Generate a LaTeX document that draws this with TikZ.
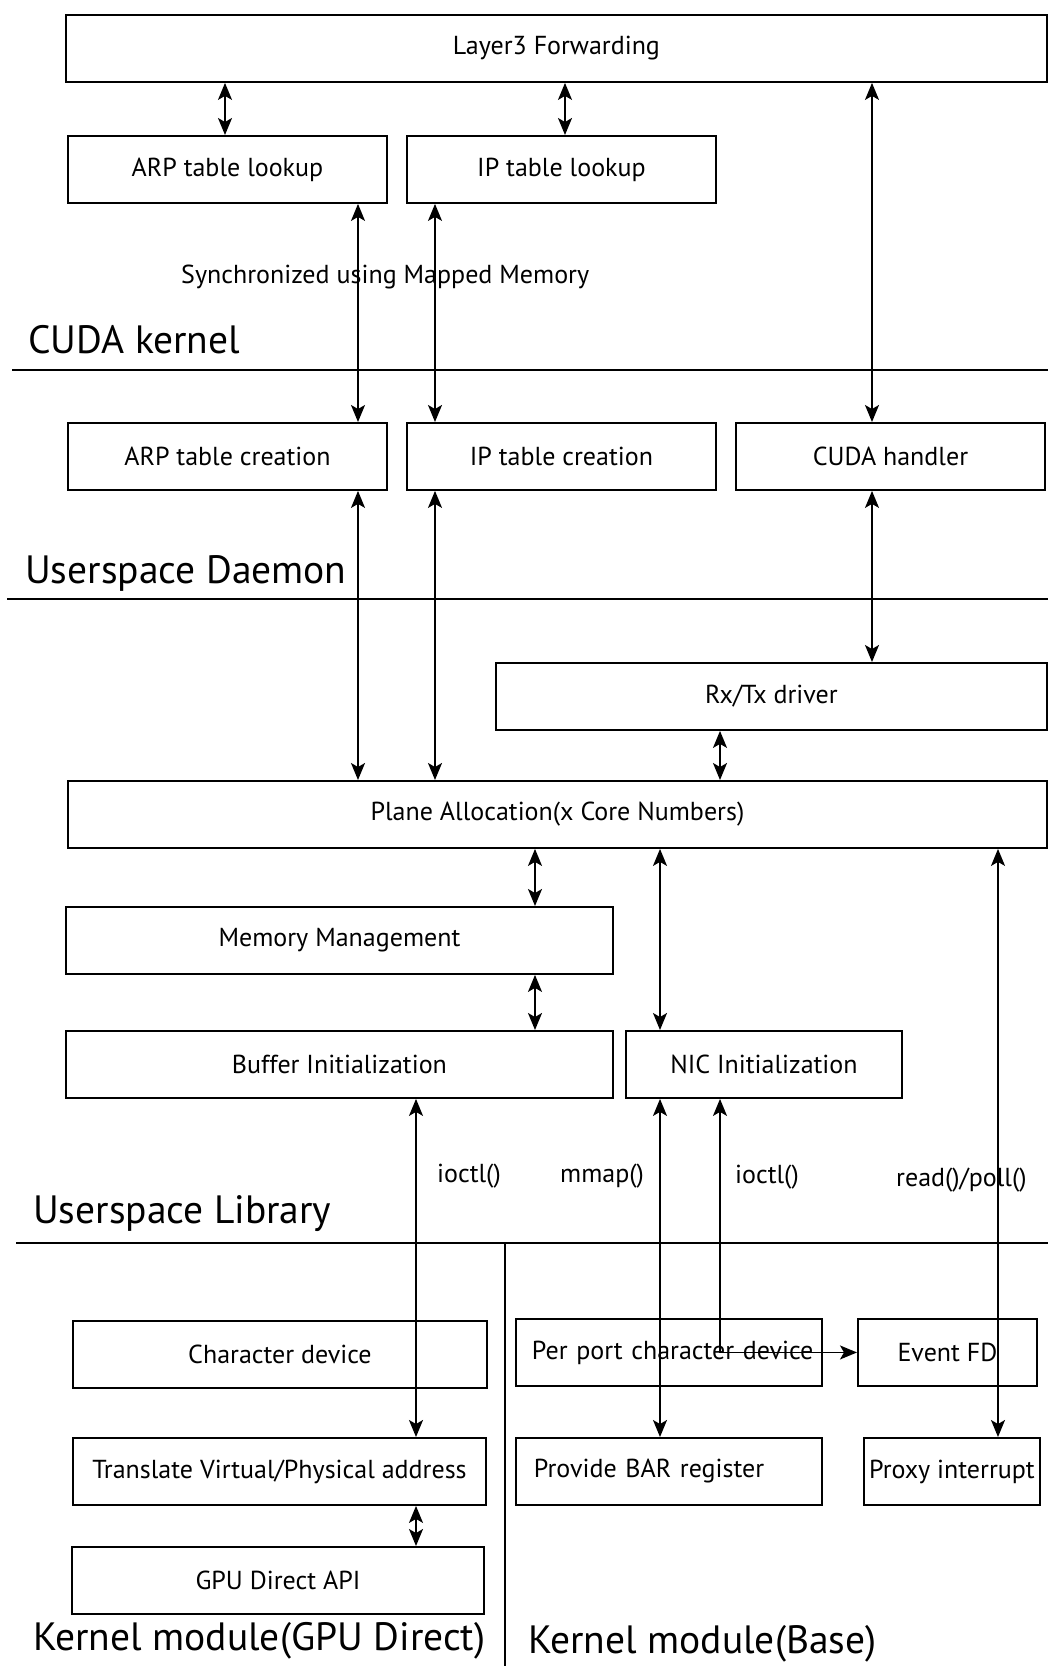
\documentclass[tikz,border=0pt]{standalone}
\usepackage{fontspec}
\setmainfont{PT Sans}
\usetikzlibrary{arrows.meta}
\begin{document}
\begin{tikzpicture}[x=1pt,y=-1pt,
  box/.style={draw, line width=1.9pt, inner sep=0pt, anchor=north west,
    minimum height=67pt, font=\fontsize{26}{30}\selectfont},
  lbox/.style={box, inner xsep=#1, align=left},
  layer/.style={anchor=base west, inner sep=0pt, font=\fontsize{39.5}{44}\selectfont},
  call/.style={anchor=base west, inner sep=0pt, font=\fontsize{26}{30}\selectfont},
  tip/.tip={Stealth[length=17pt,width=14pt,inset=4pt]},
  link/.style={line width=1.6pt, tip-tip},
  sep/.style={line width=1.9pt}
]
\useasboundingbox (0,0) rectangle (1048,1666);

% columns used by the vertical connectors
\coordinate (xa) at (225,0);
\coordinate (xb) at (565,0);
\coordinate (xc) at (872,0);
\coordinate (xd) at (358,0);
\coordinate (xe) at (435,0);
\coordinate (xf) at (720,0);
\coordinate (xg) at (535,0);
\coordinate (xh) at (660,0);
\coordinate (xi) at (998,0);
\coordinate (xj) at (416,0);

% layer separators
\coordinate (s1a) at (12,370);   \coordinate (s1b) at (1048,370);
\coordinate (s2a) at (7,599);    \coordinate (s2b) at (1048,599);
\coordinate (s3a) at (16,1243);  \coordinate (s3b) at (1048,1243);
\coordinate (s4a) at (505,1243); \coordinate (s4b) at (505,1666);
\draw[sep] (s1a) -- (s1b);
\draw[sep] (s2a) -- (s2b);
\draw[sep] (s3a) -- (s3b);
\draw[line width=1.5pt] (s4a) -- (s4b);

% CUDA kernel
\node[box, minimum width=981pt] (l3) at (65,14) {Layer3 Forwarding};
\node[box, minimum width=319pt] (arplu) at (67,135) {ARP table lookup};
\node[box, minimum width=309pt] (iplu) at (406,135) {IP table lookup};

% Userspace daemon
\node[box, minimum width=319pt] (arpcr) at (67,422) {ARP table creation};
\node[box, minimum width=309pt] (ipcr) at (406,422) {IP table creation};
\node[box, minimum width=309pt] (cudah) at (735,422) {CUDA handler};

% Userspace library
\node[box, minimum width=551pt] (rxtx) at (495,662) {Rx/Tx driver};
\node[box, minimum width=979pt] (plane) at (67,780) {Plane Allocation(x Core Numbers)};
\node[box, minimum width=547pt] (mem) at (65,906) {Memory Management};
\node[box, minimum width=547pt] (buf) at (65,1030) {Buffer Initialization};
\node[box, minimum width=276pt] (nic) at (625,1030) {NIC Initialization};

% Kernel module (GPU Direct)
\node[box, minimum width=414pt] (chardev) at (72,1320) {Character device};
\node[box, minimum width=413pt] (trans) at (72,1437) {Translate Virtual/Physical address};
\node[box, minimum width=412pt] (gpuapi) at (71,1546) {GPU Direct API};

% Kernel module (Base)
\node[lbox=16pt, text width=274pt] (perport) at (515,1318) {\mbox{Per port character device}};
\node[box, minimum width=179pt] (eventfd) at (857,1318) {Event FD};
\node[lbox=18pt, text width=270pt] (bar) at (515,1437) {\mbox{Provide BAR register}};
\node[box, minimum width=176pt] (proxy) at (863,1437) {Proxy interrupt};

% layer names
\node[layer] (lk) at (28,353) {CUDA kernel};
\node[layer] (ld) at (25,583) {Userspace Daemon};
\node[layer] (ll) at (33,1223) {Userspace Library};
\node[layer] (lg) at (33,1650) {Kernel module(GPU Direct)};
\node[layer] (lb) at (528,1653) {Kernel module(Base)};

% connector labels
\node[call] (sync) at (181,283) {Synchronized using Mapped Memory};
\node[call] (c1) at (437,1182) {ioctl()};
\node[call] (c2) at (560,1182) {mmap()};
\node[call] (c3) at (735,1183) {ioctl()};
\node[call] (c4) at (896,1186) {read()/poll()};

% connectors
\draw[link] (l3.south -| xa) -- (arplu.north -| xa);
\draw[link] (l3.south -| xb) -- (iplu.north -| xb);
\draw[link] (l3.south -| xc) -- (cudah.north -| xc);
\draw[link] (arplu.south -| xd) -- (arpcr.north -| xd);
\draw[link] (iplu.south -| xe) -- (ipcr.north -| xe);
\draw[link] (arpcr.south -| xd) -- (plane.north -| xd);
\draw[link] (ipcr.south -| xe) -- (plane.north -| xe);
\draw[link] (cudah.south -| xc) -- (rxtx.north -| xc);
\draw[link] (rxtx.south -| xf) -- (plane.north -| xf);
\draw[link] (plane.south -| xg) -- (mem.north -| xg);
\draw[link] (mem.south -| xg) -- (buf.north -| xg);
\draw[link] (plane.south -| xh) -- (nic.north -| xh);
\draw[link] (plane.south -| xi) -- (proxy.north -| xi);
\draw[link] (buf.south -| xj) -- (trans.north -| xj);
\draw[link] (nic.south -| xh) -- (bar.north -| xh);
\draw[link] (nic.south -| xf) |- (eventfd.west);
\draw[link] (trans.south -| xj) -- (gpuapi.north -| xj);
\end{tikzpicture}
\end{document}
